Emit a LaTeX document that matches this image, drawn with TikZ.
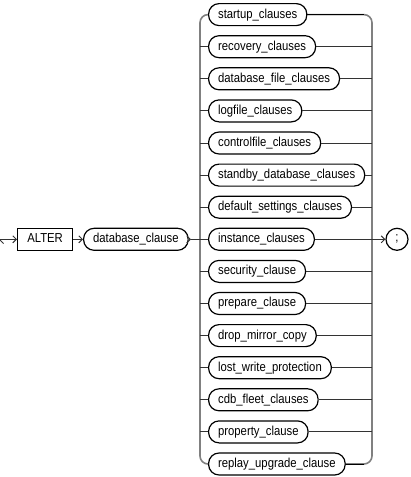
\documentclass[tikz,border=0pt]{standalone}
\usepackage{fontspec}
\setmainfont{Liberation Sans}[FakeStretch=0.87]
\usepackage{tikz}
\usetikzlibrary{arrows.meta}

\tikzset{
  term/.style={draw, line width=1.2pt, rounded corners=10.5pt, minimum height=22pt,
    inner xsep=9.5pt, inner ysep=0pt, text height=9.4pt, text depth=2.6pt,
    font=\fontsize{13}{15}\selectfont, anchor=west},
  kwbox/.style={draw, line width=1.2pt, minimum height=22pt, minimum width=55pt,
    inner sep=0pt, text height=9.4pt, text depth=2.6pt,
    font=\fontsize{13}{15}\selectfont, anchor=west},
  semibox/.style={draw, circle, line width=1.2pt, minimum size=22pt, inner sep=0pt,
    font=\fontsize{13}{15}\selectfont},
  rail/.style={draw=gray, line width=1.6pt, rounded corners=8pt},
  link/.style={draw=black!80, line width=1pt},
  >={Straight Barb[length=3.5pt,width=7pt]}
}

\begin{document}
\begin{tikzpicture}[x=1pt,y=-1pt]
  \useasboundingbox (0,0) rectangle (411,477);
   \draw (0,239.3) coordinate (start);
   \draw (200,0) coordinate (lrail);
   \draw (372,0) coordinate (rrail);
   \draw (191,239.3) coordinate (dbtip);
    \draw (17,239.3) node[kwbox] (alter) {ALTER};
    \draw (83,239.3) node[term] (dbclause) {database\_clause};
    \draw (397,239.3) node[semibox] (semi) {;};

   \draw (208,14.6) node[term] (startup) {startup\_clauses};
   \draw (208,46.7) node[term] (recovery) {recovery\_clauses};
   \draw (208,78.8) node[term] (dbfile) {database\_file\_clauses};
   \draw (208,110.9) node[term] (logfile) {logfile\_clauses};
   \draw (208,143.0) node[term] (ctlfile) {controlfile\_clauses};
   \draw (208,175.1) node[term] (standby) {standby\_database\_clauses};
   \draw (208,207.2) node[term] (defaults) {default\_settings\_clauses};
   \draw (208,239.3) node[term] (instance) {instance\_clauses};
   \draw (208,271.4) node[term] (security) {security\_clause};
   \draw (208,303.5) node[term] (prepare) {prepare\_clause};
   \draw (208,335.6) node[term] (dropmirror) {drop\_mirror\_copy};
   \draw (208,367.7) node[term] (lostwrite) {lost\_write\_protection};
   \draw (208,399.8) node[term] (cdbfleet) {cdb\_fleet\_clauses};
   \draw (208,431.9) node[term] (property) {property\_clause};
   \draw (208,464.0) node[term] (replay) {replay\_upgrade\_clause};

   % rails
   \draw[rail] (startup.west) -- (lrail |- startup) -- (lrail |- replay) -- (replay.west);
   \draw[rail] (startup.east) -- (rrail |- startup) -- (rrail |- replay) -- (replay.east);
   \draw[link,draw=black] (startup.east) -- ([xshift=-8pt]rrail |- startup);
   \draw[link,draw=black] (replay.east) -- ([xshift=-8pt]rrail |- replay);

   % main line
        \path[link,->] (start) edge (alter);
        \path[link,->] (alter) edge (dbclause);
        \path[link,->] (dbclause) edge (dbtip);
        \path[link] (dbtip) edge (instance);
        \path[link,->] (instance) edge (semi);

   % branches
        \path[link] (lrail |- recovery) edge (recovery) (recovery) edge (rrail |- recovery);
        \path[link] (lrail |- dbfile) edge (dbfile) (dbfile) edge (rrail |- dbfile);
        \path[link] (lrail |- logfile) edge (logfile) (logfile) edge (rrail |- logfile);
        \path[link] (lrail |- ctlfile) edge (ctlfile) (ctlfile) edge (rrail |- ctlfile);
        \path[link] (lrail |- standby) edge (standby) (standby) edge (rrail |- standby);
        \path[link] (lrail |- defaults) edge (defaults) (defaults) edge (rrail |- defaults);
        \path[link] (lrail |- security) edge (security) (security) edge (rrail |- security);
        \path[link] (lrail |- prepare) edge (prepare) (prepare) edge (rrail |- prepare);
        \path[link] (lrail |- dropmirror) edge (dropmirror) (dropmirror) edge (rrail |- dropmirror);
        \path[link] (lrail |- lostwrite) edge (lostwrite) (lostwrite) edge (rrail |- lostwrite);
        \path[link] (lrail |- cdbfleet) edge (cdbfleet) (cdbfleet) edge (rrail |- cdbfleet);
        \path[link] (lrail |- property) edge (property) (property) edge (rrail |- property);
\end{tikzpicture}
\end{document}
